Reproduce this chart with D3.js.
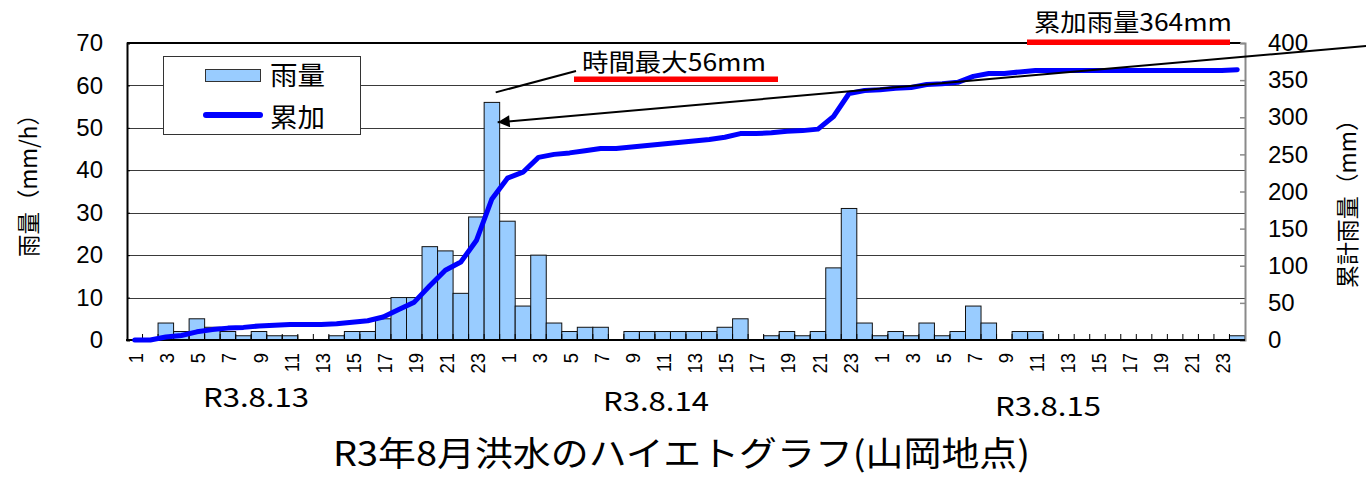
<!DOCTYPE html>
<html lang="ja">
<head>
<meta charset="utf-8">
<script src="https://cdn.jsdelivr.net/npm/d3@7"></script>
<style>
  html, body { margin: 0; padding: 0; background: #fff; }
  svg { display: block; }
  text { fill: #000; }
</style>
</head>
<body>
<svg id="chart" width="1366" height="478"></svg>
<script>
// ---- data: hourly rainfall (mm/h), one array per day ----
const dates = ["R3.8.13", "R3.8.14", "R3.8.15"];
const hourLabels = ["1","2","3","4","5","6","7","8","9","10","11","12",
                    "13","14","15","16","17","18","19","20","21","22","23","24"];
const rain13 = [0,0,4,2,5,3,2,1,2,1,1,0,0,1,2,2,5,10,10,22,21,11,29,56];
const rain14 = [28,8,20,4,2,3,3,0,2,2,2,2,2,2,3,5,0,1,2,1,2,17,31,4];
const rain15 = [1,2,1,4,1,2,8,4,0,2,2,0,0,0,0,0,0,0,0,0,0,0,0,1];
const leftTicks = [0,10,20,30,40,50,60,70];
const rightTicks = [0,50,100,150,200,250,300,350,400];

const seriesNames = ["雨量", "累加"];
const leftTitle = "雨量（mm/h）";
const rightTitle = "累計雨量（mm）";
const chartTitle = "R3年8月洪水のハイエトグラフ(山岡地点)";

// ---- derived table ----
const days = [rain13, rain14, rain15];
const rows = [];
days.forEach((arr, d) => arr.forEach((v, h) => rows.push({ day: d, hour: hourLabels[h], rain: v })));
let run = 0;
rows.forEach((r, i) => { run += r.rain; r.cum = run; r.i = i; });
const total = run;
const peak = rows.reduce((a, b) => (b.rain > a.rain ? b : a));

// ---- layout ----
const L = 127, R = 1245, T = 43, B = 340;
const JP = "'Noto Sans CJK JP', 'Noto Sans', sans-serif";
const NUM = "'Liberation Sans', Arial, sans-serif";

const svg = d3.select("#chart");
const x = d3.scaleBand().domain(rows.map(r => r.i)).range([L, R]).padding(0);
const bw = x.bandwidth();
const yL = d3.scaleLinear().domain([0, 70]).range([B, T]);
const yR = d3.scaleLinear().domain([0, 400]).range([B, T]);

// gridlines
svg.append("g").selectAll("line")
  .data(leftTicks.filter(t => t > 0 && t < 70))
  .join("line")
  .attr("x1", L).attr("x2", R)
  .attr("y1", d => Math.round(yL(d)) + 0.5).attr("y2", d => Math.round(yL(d)) + 0.5)
  .attr("stroke", "#3a3a3a").attr("stroke-width", 1);

// bars
svg.append("g").selectAll("rect")
  .data(rows)
  .join("rect")
  .attr("x", d => x(d.i))
  .attr("width", bw)
  .attr("y", d => yL(d.rain))
  .attr("height", d => B - yL(d.rain))
  .attr("fill", "#99ccff")
  .attr("stroke", "#111")
  .attr("stroke-width", 1);

// category boundary ticks on the bottom axis (pointing inward)
svg.append("g").selectAll("line")
  .data(rows.slice(1))
  .join("line")
  .attr("x1", d => x(d.i)).attr("x2", d => x(d.i))
  .attr("y1", B).attr("y2", B - 6)
  .attr("stroke", "#000").attr("stroke-width", 1);

// top border
svg.append("line").attr("x1", L).attr("x2", R - 4).attr("y1", T).attr("y2", T)
  .attr("stroke", "#000").attr("stroke-width", 2);

// left axis
const gL = svg.append("g").attr("transform", `translate(${L},0)`)
  .call(d3.axisLeft(yL).tickValues(leftTicks).tickSize(-3).tickPadding(24));
gL.select(".domain").attr("stroke", "#000").attr("stroke-width", 2);
gL.selectAll(".tick line").attr("stroke", "#000");
gL.selectAll("text").attr("font-family", NUM).attr("font-size", 24).attr("fill", "#000");

// right axis
const gR = svg.append("g").attr("transform", `translate(${R},0)`)
  .call(d3.axisRight(yR).tickValues(rightTicks).tickSize(-5).tickPadding(23));
gR.select(".domain").attr("stroke", "#8a8a8a").attr("stroke-width", 2);
gR.selectAll(".tick line").attr("stroke", "#8a8a8a").attr("stroke-width", 1.5);
gR.selectAll("text").attr("font-family", NUM).attr("font-size", 24).attr("fill", "#000");

// bottom axis line
svg.append("line").attr("x1", L - 1).attr("x2", R).attr("y1", B).attr("y2", B)
  .attr("stroke", "#000").attr("stroke-width", 2);

// hour labels (odd hours), rotated
svg.append("g").selectAll("text")
  .data(rows.filter(r => (+r.hour) % 2 === 1))
  .join("text")
  .attr("transform", d => `translate(${x(d.i) + bw / 2 + 1},353) rotate(-90) scale(0.88,1)`)
  .attr("text-anchor", "end")
  .attr("dy", "0.36em")
  .attr("font-family", NUM)
  .attr("font-size", 21)
  .text(d => d.hour);

// date labels
const dateLayout = [{ x: 203, y: 407 }, { x: 603, y: 411 }, { x: 995, y: 416 }];
svg.append("g").selectAll("text")
  .data(dates)
  .join("text")
  .attr("x", (d, i) => dateLayout[i].x)
  .attr("y", (d, i) => dateLayout[i].y)
  .attr("font-family", JP)
  .attr("font-size", 26)
  .attr("textLength", 106)
  .attr("lengthAdjust", "spacingAndGlyphs")
  .text(d => d);

// cumulative line
const line = d3.line()
  .x(d => x(d.i) + bw / 2)
  .y(d => yR(d.cum))
  .curve(d3.curveLinear);
svg.append("path")
  .datum(rows)
  .attr("d", line)
  .attr("fill", "none")
  .attr("stroke", "#0000ff")
  .attr("stroke-width", 5)
  .attr("stroke-linejoin", "round")
  .attr("stroke-linecap", "round");

// legend
const lg = svg.append("g");
lg.append("rect").attr("x", 163.5).attr("y", 56.5).attr("width", 197).attr("height", 78)
  .attr("fill", "#fff").attr("stroke", "#333").attr("stroke-width", 1);
lg.append("rect").attr("x", 205.5).attr("y", 69.5).attr("width", 55).attr("height", 12)
  .attr("fill", "#99ccff").attr("stroke", "#333").attr("stroke-width", 1);
lg.append("line").attr("x1", 206).attr("x2", 260).attr("y1", 115).attr("y2", 115)
  .attr("stroke", "#0000ff").attr("stroke-width", 6).attr("stroke-linecap", "round");
lg.selectAll("text.lt")
  .data(seriesNames)
  .join("text")
  .attr("class", "lt")
  .attr("x", 270)
  .attr("y", (d, i) => 85 + i * 42)
  .attr("font-family", JP)
  .attr("font-size", 26)
  .attr("textLength", 55)
  .attr("lengthAdjust", "spacingAndGlyphs")
  .text(d => d);

// axis titles
svg.append("text")
  .attr("transform", "translate(37,180) rotate(-90)")
  .attr("text-anchor", "middle")
  .attr("font-family", JP).attr("font-size", 23)
  .attr("textLength", 154).attr("lengthAdjust", "spacingAndGlyphs")
  .text(leftTitle);
svg.append("text")
  .attr("transform", "translate(1356,198) rotate(-90)")
  .attr("text-anchor", "middle")
  .attr("font-family", JP).attr("font-size", 23)
  .attr("textLength", 180).attr("lengthAdjust", "spacingAndGlyphs")
  .text(rightTitle);

// chart title
svg.append("text")
  .attr("x", 333).attr("y", 466)
  .attr("font-family", JP).attr("font-size", 34)
  .attr("textLength", 697).attr("lengthAdjust", "spacingAndGlyphs")
  .text(chartTitle);

// annotation: hourly maximum
const peakX = x(peak.i) + bw;
const ann = svg.append("g");
ann.append("line")
  .attr("x1", peakX - 4).attr("y1", yL(peak.rain) - 10)
  .attr("x2", 576).attr("y2", 71)
  .attr("stroke", "#000").attr("stroke-width", 2);
ann.append("text")
  .attr("x", 582).attr("y", 71)
  .attr("font-family", JP).attr("font-size", 24)
  .attr("textLength", 184).attr("lengthAdjust", "spacingAndGlyphs")
  .text(`時間最大${peak.rain}mm`);
ann.append("rect").attr("x", 574).attr("y", 76.5).attr("width", 204).attr("height", 5.5)
  .attr("fill", "#ff0000");

// annotation: total rainfall, with arrow pointing to the peak bar
ann.append("text")
  .attr("x", 1034).attr("y", 31)
  .attr("font-family", JP).attr("font-size", 24)
  .attr("textLength", 198).attr("lengthAdjust", "spacingAndGlyphs")
  .text(`累加雨量${total}mm`);
ann.append("rect").attr("x", 1027).attr("y", 39.5).attr("width", 203).attr("height", 5.5)
  .attr("fill", "#ff0000");

svg.append("defs").append("marker")
  .attr("id", "arrowHead")
  .attr("viewBox", "0 0 10 10")
  .attr("refX", 10).attr("refY", 5)
  .attr("markerWidth", 7).attr("markerHeight", 6)
  .attr("markerUnits", "strokeWidth")
  .attr("orient", "auto")
  .append("path").attr("d", "M0,0 L10,5 L0,10 Z").attr("fill", "#000");

ann.append("line")
  .attr("x1", 1366).attr("y1", 46)
  .attr("x2", peakX - 2).attr("y2", yL(51.3))
  .attr("stroke", "#000").attr("stroke-width", 2)
  .attr("marker-end", "url(#arrowHead)");
</script>
</body>
</html>
